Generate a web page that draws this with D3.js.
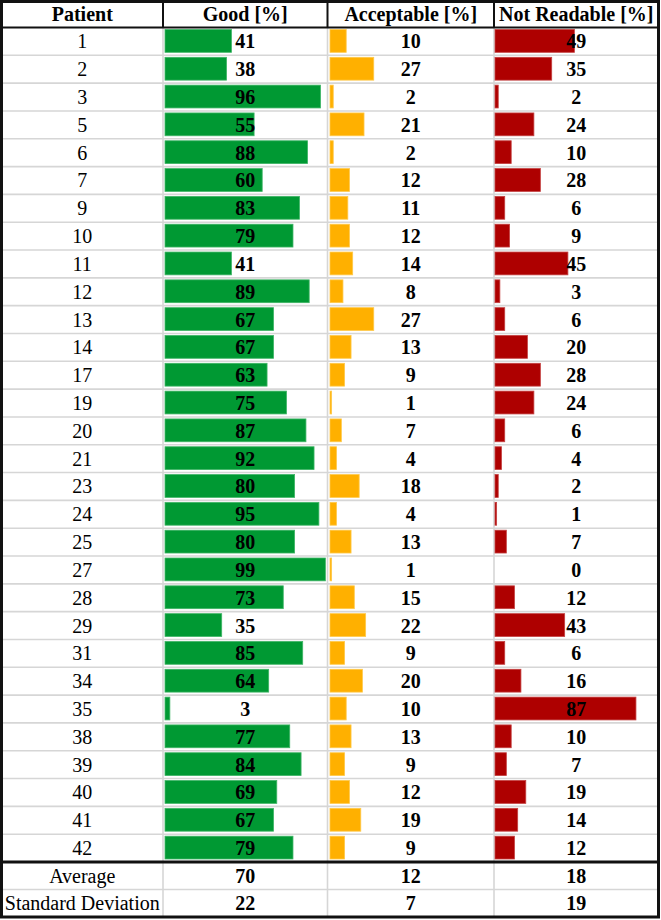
<!DOCTYPE html>
<html>
<head>
<meta charset="utf-8">
<script src="https://cdn.jsdelivr.net/npm/d3@7"></script>
<style>
  html, body { margin: 0; padding: 0; background: #fff; }
  svg { display: block; }
</style>
</head>
<body>
<script>
const headers = ["Patient", "Good [%]", "Acceptable [%]", "Not Readable [%]"];
const patients = [1,2,3,5,6,7,9,10,11,12,13,14,17,19,20,21,23,24,25,27,28,29,31,34,35,38,39,40,41,42];
const good = [41,38,96,55,88,60,83,79,41,89,67,67,63,75,87,92,80,95,80,99,73,35,85,64,3,77,84,69,67,79];
const acceptable = [10,27,2,21,2,12,11,12,14,8,27,13,9,1,7,4,18,4,13,1,15,22,9,20,10,13,9,12,19,9];
const notReadable = [49,35,2,24,10,28,6,9,45,3,6,20,28,24,6,4,2,1,7,0,12,43,6,16,87,10,7,19,14,12];
const summaryLabels = ["Average", "Standard Deviation"];
const summaryValues = [[70,12,18],[22,7,19]];

const FONT = "Liberation Serif";
const W = 661, H = 920;
const colEdges = [1.5, 163, 327.5, 494, 658.5];
const headerBottom = 27.5;
const dataBottom = 862;
const summaryBottom = 917;
const colors = ["#009933", "#FFB000", "#AE0000"];
const strokes = ["#3fb566", "#ffc94a", "#c44040"];
const series = [good, acceptable, notReadable];

const svg = d3.select("body").append("svg").attr("width", W).attr("height", H)
  .attr("font-family", FONT);

const y = d3.scaleBand().domain(patients).range([headerBottom, dataBottom]);
const ys = d3.scaleBand().domain(summaryLabels).range([dataBottom, summaryBottom]);
const barLen = d3.scaleLinear().domain([0, 100]).range([0, 162]);
const barStart = [165, 330, 495];
const colCenter = i => (colEdges[i] + colEdges[i + 1]) / 2;

// light gridlines
const grid = svg.append("g").attr("stroke", "#d6d6d6").attr("stroke-width", 1.6);
patients.slice(1).forEach(p => {
  grid.append("line").attr("x1", colEdges[0]).attr("x2", colEdges[4])
    .attr("y1", y(p)).attr("y2", y(p));
});
grid.append("line").attr("x1", colEdges[0]).attr("x2", colEdges[4])
  .attr("y1", ys(summaryLabels[1])).attr("y2", ys(summaryLabels[1]));
[1, 2, 3].forEach(i => {
  grid.append("line").attr("x1", colEdges[i]).attr("x2", colEdges[i])
    .attr("y1", headerBottom).attr("y2", summaryBottom);
});

// bars
series.forEach((vals, si) => {
  svg.append("g").selectAll("rect").data(vals.map((v, i) => ({ v, p: patients[i] })))
    .join("rect")
    .filter(d => d.v > 0)
    .attr("x", barStart[si])
    .attr("y", d => y(d.p) + 2)
    .attr("width", d => barLen(d.v))
    .attr("height", y.bandwidth() - 5)
    .attr("fill", colors[si])
    .attr("stroke", strokes[si])
    .attr("stroke-width", 0.8);
});

function txt(g, x, yy, s, bold, size) {
  return g.append("text").attr("x", x).attr("y", yy)
    .attr("text-anchor", "middle").attr("font-family", FONT)
    .attr("font-size", size || 20).attr("font-weight", bold ? "bold" : "normal")
    .attr("fill", "#000").text(s);
}

// header text
headers.forEach((h, i) => txt(svg, colCenter(i), 21, h, true, 20));

// patient numbers and values
const body = svg.append("g");
patients.forEach((p, r) => {
  const cy = y(p) + y.bandwidth() / 2 + 7;
  txt(body, colCenter(0), cy, p, false);
  series.forEach((vals, si) => txt(body, colCenter(si + 1), cy, vals[r], true));
});

// summary rows
summaryLabels.forEach((lab, r) => {
  const cy = ys(lab) + ys.bandwidth() / 2 + 7;
  txt(body, colCenter(0), cy, lab, false);
  summaryValues[r].forEach((v, c) => txt(body, colCenter(c + 1), cy, v, true));
});

// dark borders
const dark = svg.append("g").attr("stroke", "#111").attr("fill", "none");
[1, 2, 3].forEach(i => {
  dark.append("line").attr("x1", colEdges[i]).attr("x2", colEdges[i])
    .attr("y1", 0).attr("y2", headerBottom).attr("stroke-width", 2);
});
dark.append("line").attr("x1", colEdges[0]).attr("x2", colEdges[4])
  .attr("y1", headerBottom).attr("y2", headerBottom).attr("stroke-width", 2);
dark.append("line").attr("x1", colEdges[0]).attr("x2", colEdges[4])
  .attr("y1", dataBottom).attr("y2", dataBottom).attr("stroke-width", 3);
dark.append("rect").attr("x", colEdges[0]).attr("y", 1.5)
  .attr("width", colEdges[4] - colEdges[0]).attr("height", summaryBottom - 1.5)
  .attr("stroke-width", 3);
</script>
</body>
</html>
